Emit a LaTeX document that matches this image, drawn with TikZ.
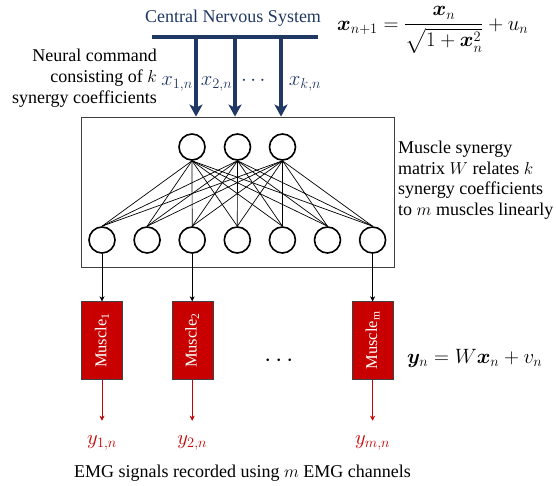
\documentclass[tikz,border=0pt]{standalone}
\usepackage{amsmath,bm}
\usepackage{fontspec}
\setmainfont{Liberation Serif}
\usetikzlibrary{arrows.meta,positioning}
\definecolor{cnsblue}{HTML}{203864}
\definecolor{musred}{HTML}{C80000}
\tikzset{
  neuron/.style={draw, circle, line width=1.6pt, minimum size=26pt, inner sep=0pt},
  muscle/.style={draw=black!75, fill=musred, text=white, minimum width=41pt, minimum height=78pt,
    inner sep=0pt, font=\fontsize{16.5}{18}\selectfont},
  cmd/.style={cnsblue, line width=4pt},
  small tip/.style={-{Stealth[length=5pt,width=5pt]}},
  plain/.style={inner sep=0pt},
  bigmath/.style={inner sep=0pt, font=\fontsize{20.5}{22}\selectfont},
}

\begin{document}
\begin{tikzpicture}[x=1pt, y=-1pt, font=\fontsize{18}{21}\selectfont]
  \useasboundingbox (0,0) rectangle (556,485);

  \node[plain, cnsblue, anchor=base] (cns) at (233,22) {Central Nervous System};
  \node[plain, font=\fontsize{19.5}{21}\selectfont, anchor=base west] (dyn) at (337,30)
    {$\boldsymbol{x}_{n+1} = \dfrac{\boldsymbol{x}_n}{\sqrt{1+\boldsymbol{x}_n^2}} + u_n$};
  \node[plain, align=right, anchor=east] (cmdtxt) at (157,78)
    {Neural command\\consisting of $k$\\synergy coefficients};

  \coordinate (barL) at (152,37);
  \coordinate (barR) at (318,37);
  \draw[cmd] (barL) -- (barR);

  % synergy matrix box
  \node[draw=black!75, line width=0.8pt, minimum width=313pt, minimum height=150pt] (W) at (237.5,192) {};
  \foreach \i/\x in {1/196, 2/235, 3/281} {
    \coordinate (c\i) at (\x,37);
    \draw[cmd, -{Stealth[length=12pt,width=13pt,inset=3pt]}] (c\i) -- (c\i |- W.north);
  }
  \node[bigmath, cnsblue, anchor=base] (x1) at (177,85) {$x_{1,n}$};
  \node[bigmath, cnsblue, anchor=base] (x2) at (216.5,85) {$x_{2,n}$};
  \node[bigmath, cnsblue] (xdots) at (255,81) {$\cdots$};
  \node[bigmath, cnsblue, anchor=base] (xk) at (305,85) {$x_{k,n}$};

  \foreach \i/\x in {1/192, 2/237.5, 3/282.5} \node[neuron] (t\i) at (\x,147) {};
  \foreach \j in {1,...,7} \node[neuron] (b\j) at ({102+45.1*(\j-1)},240) {};
  \foreach \i in {1,2,3} \foreach \j in {1,...,7} \draw[line width=0.7pt] (t\i.south) -- (b\j.north);

  \node[plain, align=left, anchor=west, font=\fontsize{18}{20.6}\selectfont] (wtxt) at (398,180)
    {Muscle synergy\\matrix $W$ relates $k$\\synergy coefficients\\to $m$ muscles linearly};

  \foreach \mi/\bi/\lab in {1/1/1, 2/3/2, 3/7/m} {
    \node[muscle, below=47.5pt of b\bi] (m\mi) {\rotatebox{90}{Muscle\textsubscript{\lab}}};
    \draw[small tip] (b\bi) -- (m\mi);
    \coordinate (e\mi) at ([yshift=-41pt]m\mi.south);
    \draw[musred, small tip] (m\mi) -- (e\mi);
    \node[bigmath, musred, anchor=base] (y\mi) at ([yshift=-24pt]e\mi) {$y_{\lab,n}$};
  }

  \node[plain, font=\fontsize{25}{25}\selectfont] (mdots) at (281,361) {$\cdots$};
  \node[bigmath, anchor=base west] (obs) at (407,363) {$\boldsymbol{y}_n = W\boldsymbol{x}_n + v_n$};
  \node[plain, anchor=base] (emg) at (242.5,477) {EMG signals recorded using $m$ EMG channels};
\end{tikzpicture}
\end{document}
